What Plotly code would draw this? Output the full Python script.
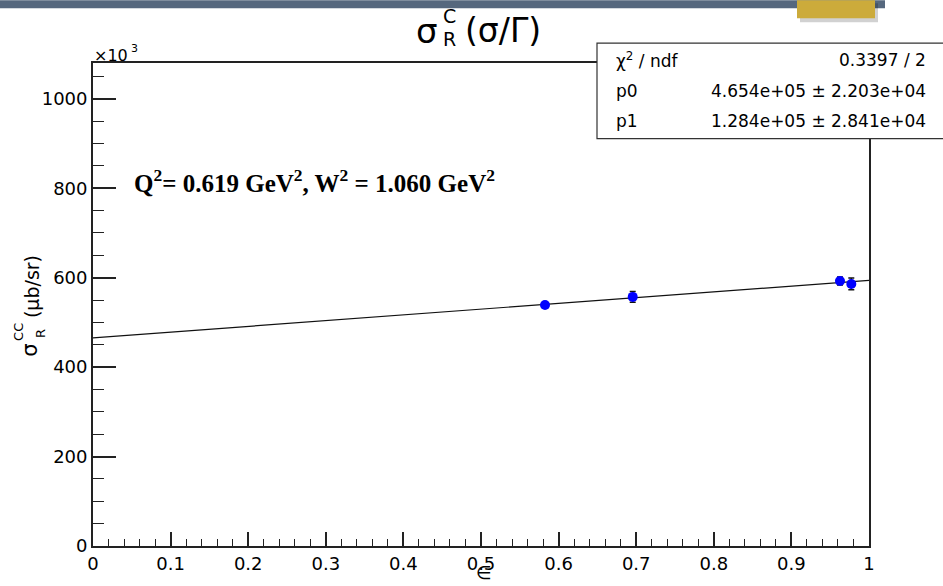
import plotly.graph_objects as go

# Measured cross sections (units of 10^3 ub/sr) versus epsilon
epsilon = [0.5825, 0.6955, 0.9626, 0.9772]
sigma_r = [539.0, 557.0, 592.5, 586.0]
sigma_err = [5.0, 12.0, 9.0, 13.0]

# Linear fit results shown in the stats box (p0 + p1 * eps)
p0, p0_err = 4.654e05, 2.203e04
p1, p1_err = 1.284e05, 2.841e04
chi2, ndf = 0.3397, 2

fit_x = [0.0, 1.0]
fit_y = [(p0 + p1 * x) / 1e3 for x in fit_x]

W, H = 943, 586
L, R, T, B = 93, 869, 63, 548  # plot frame in pixels


def px(x):
    return (x - L) / (R - L)


def py(y):
    return (B - y) / (B - T)


FONT = "DejaVu Sans, Liberation Sans, sans-serif"
SERIF = "Liberation Serif, Times New Roman, serif"

fig = go.Figure()

fig.add_trace(go.Scatter(
    x=fit_x, y=fit_y, mode="lines",
    line=dict(color="#111111", width=1.2),
    hoverinfo="skip", showlegend=False,
))

fig.add_trace(go.Scatter(
    x=epsilon, y=sigma_r, mode="markers",
    marker=dict(color="#0000ff", size=10),
    error_y=dict(type="data", array=sigma_err, color="#111111",
                 thickness=1.5, width=3),
    showlegend=False,
))

fig.update_layout(
    width=W, height=H,
    margin=dict(l=L, r=W - R, t=T, b=H - B),
    paper_bgcolor="white", plot_bgcolor="white",
    font=dict(family=FONT, color="black"),
    xaxis=dict(
        range=[0, 1], dtick=0.1, tick0=0, tickformat="~g",
        ticks="inside", ticklen=14, tickwidth=1.5, tickcolor="#222",
        minor=dict(dtick=0.02, ticks="inside", ticklen=7,
                   tickwidth=1.2, tickcolor="#222"),
        showline=True, linecolor="#222", linewidth=1.8, mirror=True,
        showgrid=False, zeroline=False,
        tickfont=dict(size=18, family=FONT),
    ),
    yaxis=dict(
        range=[0, 1080], dtick=200, tick0=0,
        ticks="inside", ticklen=23, tickwidth=1.5, tickcolor="#222",
        minor=dict(dtick=50, ticks="inside", ticklen=11,
                   tickwidth=1.2, tickcolor="#222"),
        showline=True, linecolor="#222", linewidth=1.8, mirror=True,
        showgrid=False, zeroline=False,
        tickfont=dict(size=18, family=FONT),
    ),
)

shapes = []
# header strip and gold tab
shapes.append(dict(type="rect", xref="paper", yref="paper",
                   x0=px(0), x1=px(885), y0=py(8), y1=py(0),
                   fillcolor="#56687e", line=dict(width=0), layer="above"))
shapes.append(dict(type="rect", xref="paper", yref="paper",
                   x0=px(800), x1=px(878), y0=py(22), y1=py(3),
                   fillcolor="rgba(0,0,0,0.18)", line=dict(width=0), layer="above"))
shapes.append(dict(type="rect", xref="paper", yref="paper",
                   x0=px(797), x1=px(875), y0=py(18), y1=py(0),
                   fillcolor="#ccab3b", line=dict(width=0), layer="above"))
# stats box
shapes.append(dict(type="rect", xref="paper", yref="paper",
                   x0=px(597), x1=px(960), y0=py(139), y1=py(43),
                   fillcolor="white", line=dict(color="#333", width=1.2),
                   layer="above"))
fig.update_layout(shapes=shapes)

ann = []


def text(x, y, s, size, xanchor="center", yanchor="middle", angle=0,
         family=FONT):
    ann.append(dict(xref="paper", yref="paper", x=px(x), y=py(y), text=s,
                    showarrow=False, xanchor=xanchor, yanchor=yanchor,
                    textangle=angle, font=dict(size=size, family=family,
                                               color="black")))


# title
text(427, 31, "σ", 34)
text(449, 16, "C", 19)
text(449, 39, "R", 19)
text(503, 30, "(σ/Γ)", 33)

# axis exponent
text(92, 55, "×10", 16, xanchor="left")
text(129, 48, "3", 11, xanchor="left")

# stats box entries
text(614, 60, "χ<sup>2</sup> / ndf", 17, xanchor="left")
text(928, 60, f"{chi2:.4f} / {ndf}", 17, xanchor="right")
text(614, 91, "p0", 17, xanchor="left")
text(928, 91, f"{p0:.3e} ± {p0_err:.3e}", 17, xanchor="right")
text(614, 121, "p1", 17, xanchor="left")
text(928, 121, f"{p1:.3e} ± {p1_err:.3e}", 17, xanchor="right")

# kinematics label
text(132, 181, "<b>Q<sup>2</sup>= 0.619 GeV<sup>2</sup>, W<sup>2</sup> = 1.060 GeV<sup>2</sup></b>",
     25, xanchor="left", family=SERIF)

# y-axis title, built from pieces so the indices stack
text(30, 352, "σ", 21, angle=-90)
text(19, 333, "CC", 13, angle=-90)
text(41, 335, "R", 13, angle=-90)
text(32, 288, "(μb/sr)", 19, angle=-90)

# x-axis title
text(484, 575, "∈", 18)

fig.update_layout(annotations=ann)

fig.write_html("out.html")
